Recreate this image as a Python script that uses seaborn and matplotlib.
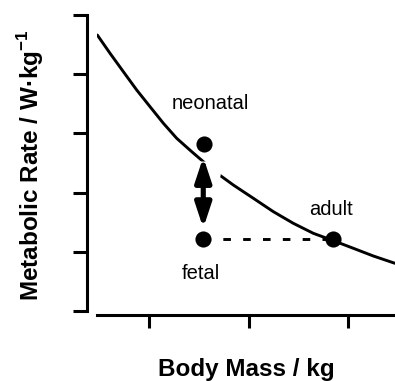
import matplotlib
matplotlib.use("Agg")
import matplotlib.pyplot as plt
from matplotlib.patches import FancyArrowPatch
import pandas as pd
import seaborn as sns

# curve (arbitrary units)
mass = [0.480, 0.608, 0.742, 0.876, 1.010, 1.144, 1.278, 1.429, 1.663, 1.847,
        2.048, 2.249, 2.450, 2.651, 2.852, 3.053, 3.254, 3.472]
rate = [4.662, 4.353, 4.042, 3.733, 3.451, 3.171, 2.917, 2.691, 2.353, 2.128,
        1.904, 1.678, 1.481, 1.312, 1.188, 1.059, 0.929, 0.805]

# the three states
stage = ["neonatal", "fetal", "adult"]
stage_mass = [1.55, 1.545, 2.85]
stage_rate = [2.82, 1.21, 1.21]
label_x = [1.62, 1.52, 2.83]
label_y = [3.50, 0.625, 1.71]

arrow_top = 2.60
arrow_bottom = 1.40

sns.set_style("ticks")
plt.rcParams["font.family"] = ["Liberation Sans", "DejaVu Sans"]
plt.rcParams["mathtext.fontset"] = "custom"
plt.rcParams["mathtext.bf"] = "Liberation Sans:bold"
plt.rcParams["mathtext.rm"] = "Liberation Sans"
plt.rcParams["text.color"] = "black"
plt.rcParams["axes.labelcolor"] = "black"
plt.rcParams["axes.edgecolor"] = "black"

curve = pd.DataFrame({"mass": mass, "rate": rate})
points = pd.DataFrame({"stage": stage, "mass": stage_mass, "rate": stage_rate})

fig = plt.figure(figsize=(3.95, 3.81), dpi=100)
ax = fig.add_axes([97 / 395, 66 / 381, 298 / 395, 300 / 381])

sns.lineplot(data=curve, x="mass", y="rate", ax=ax, color="black", lw=2.1,
             sort=False, zorder=2)

# fetal -> adult dashed link
ax.plot([stage_mass[1], stage_mass[2]], [stage_rate[1], stage_rate[2]],
        color="black", lw=2.1, linestyle=(0, (2.6, 4.2)), zorder=2)

# double headed arrow; a wide white copy underneath cuts the curve
style = "<|-|>,head_length=1.45,head_width=0.48"
for col, lw, z in [("white", 16, 5), ("black", 3.7, 6)]:
    arrow = FancyArrowPatch((stage_mass[1], arrow_top), (stage_mass[1], arrow_bottom),
                            arrowstyle=style, mutation_scale=10, facecolor=col,
                            edgecolor=col, lw=lw, shrinkA=0, shrinkB=0, zorder=z)
    ax.add_patch(arrow)

sns.scatterplot(data=points, x="mass", y="rate", ax=ax, color="black", s=135,
                edgecolor="black", linewidth=0, zorder=7)

for name, tx, ty in zip(stage, label_x, label_y):
    ax.text(tx, ty, name, ha="center", va="center", fontsize=14.5, color="black")

ax.set_xlim(0.477, 3.472)
ax.set_ylim(-0.068, 5.0)
ax.set_xticks([1, 2, 3])
ax.set_yticks([0, 1, 2, 3, 4, 5])
ax.set_xticklabels([])
ax.set_yticklabels([])

for side in ["top", "right"]:
    ax.spines[side].set_visible(False)
ax.spines["left"].set_position(("outward", 7.5))
ax.spines["left"].set_bounds(0, 5)
for side in ["left", "bottom"]:
    ax.spines[side].set_linewidth(2.2)
ax.tick_params(axis="both", direction="out", width=2.2, color="black")
ax.tick_params(axis="y", length=10)
ax.tick_params(axis="x", length=9.5)

ax.set_xlabel("Body Mass / kg", fontsize=17.5, fontweight="bold", labelpad=18)
ax.set_ylabel(r"Metabolic Rate / W·kg$^{\mathbf{-1}}$", fontsize=17.5,
              fontweight="bold", labelpad=16)

fig.savefig("out.png", dpi=100)
